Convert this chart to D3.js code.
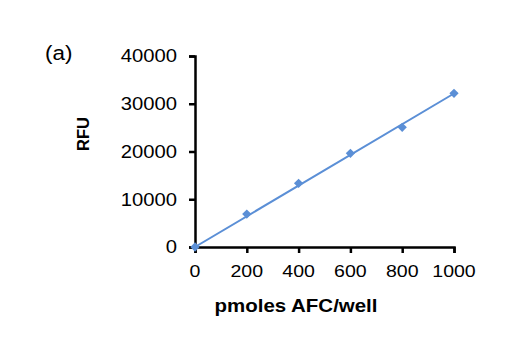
<!DOCTYPE html>
<html>
<head>
<meta charset="utf-8">
<script src="https://cdn.jsdelivr.net/npm/d3@7"></script>
<style>
  html, body { margin: 0; padding: 0; background: #fff; }
  svg { display: block; }
  text { font-family: "Liberation Sans", Arial, sans-serif; fill: #000; }
</style>
</head>
<body>
<svg id="chart" width="529" height="349"></svg>
<script>
// AFC standard curve: fluorescence vs. amount of AFC per well
const amounts = [0, 200, 400, 600, 800, 1000];          // pmoles AFC/well
const rfu = [0, 6900, 13340, 19620, 25060, 32180];       // RFU
const xTicks = [0, 200, 400, 600, 800, 1000];
const yTicks = [0, 10000, 20000, 30000, 40000];

const svg = d3.select("#chart");
const x = d3.scaleLinear().domain([0, 1000]).range([195, 454]);
const y = d3.scaleLinear().domain([0, 40000]).range([247, 56]);
const blue = "#5b8fd6";
const stretch = 1.15; // glyphs are drawn slightly wide

// linear trendline forced through the origin (least squares)
const slope = d3.sum(amounts, (a, i) => a * rfu[i]) / d3.sum(amounts, a => a * a);

// axes
const yAxis = svg.append("g").attr("transform", `translate(${x(0)},0)`)
  .call(d3.axisLeft(y).tickValues(yTicks).tickSize(6).tickFormat(""));
const xAxis = svg.append("g").attr("transform", `translate(0,${y(0)})`)
  .call(d3.axisBottom(x).tickValues(xTicks).tickSize(6).tickFormat(""));
[yAxis, xAxis].forEach(g => {
  g.select(".domain").attr("stroke", "#000").attr("stroke-width", 2.5);
  g.selectAll(".tick line").attr("stroke", "#000").attr("stroke-width", 2.5);
});

// tick labels
svg.append("g").selectAll("text").data(yTicks).join("text")
  .attr("transform", d => `translate(177,${y(d) + 6.3}) scale(${stretch},1)`)
  .attr("text-anchor", "end").attr("font-size", 17.6)
  .text(d => d);
svg.append("g").selectAll("text").data(xTicks).join("text")
  .attr("transform", d => `translate(${x(d)},277) scale(${stretch},1)`)
  .attr("text-anchor", "middle").attr("font-size", 17)
  .text(d => d);

// trendline
svg.append("line")
  .attr("x1", x(0)).attr("y1", y(0))
  .attr("x2", x(1000)).attr("y2", y(slope * 1000))
  .attr("stroke", blue).attr("stroke-width", 2);

// data markers
svg.append("g").selectAll("path").data(amounts).join("path")
  .attr("d", d3.symbol(d3.symbolDiamond2, 55))
  .attr("transform", (d, i) => `translate(${x(d)},${y(rfu[i])})`)
  .attr("fill", blue);

// axis titles
svg.append("text")
  .attr("transform", `translate(296,312) scale(${stretch},1)`)
  .attr("text-anchor", "middle").attr("font-size", 17.8).attr("font-weight", "bold")
  .text("pmoles AFC/well");
svg.append("text")
  .attr("transform", "translate(88.5,134) rotate(-90)")
  .attr("text-anchor", "middle").attr("font-size", 16.5).attr("font-weight", "bold")
  .text("RFU");

// panel label
svg.append("text")
  .attr("transform", `translate(45,60) scale(${stretch},1)`)
  .attr("font-size", 19.5)
  .text("(a)");
</script>
</body>
</html>
